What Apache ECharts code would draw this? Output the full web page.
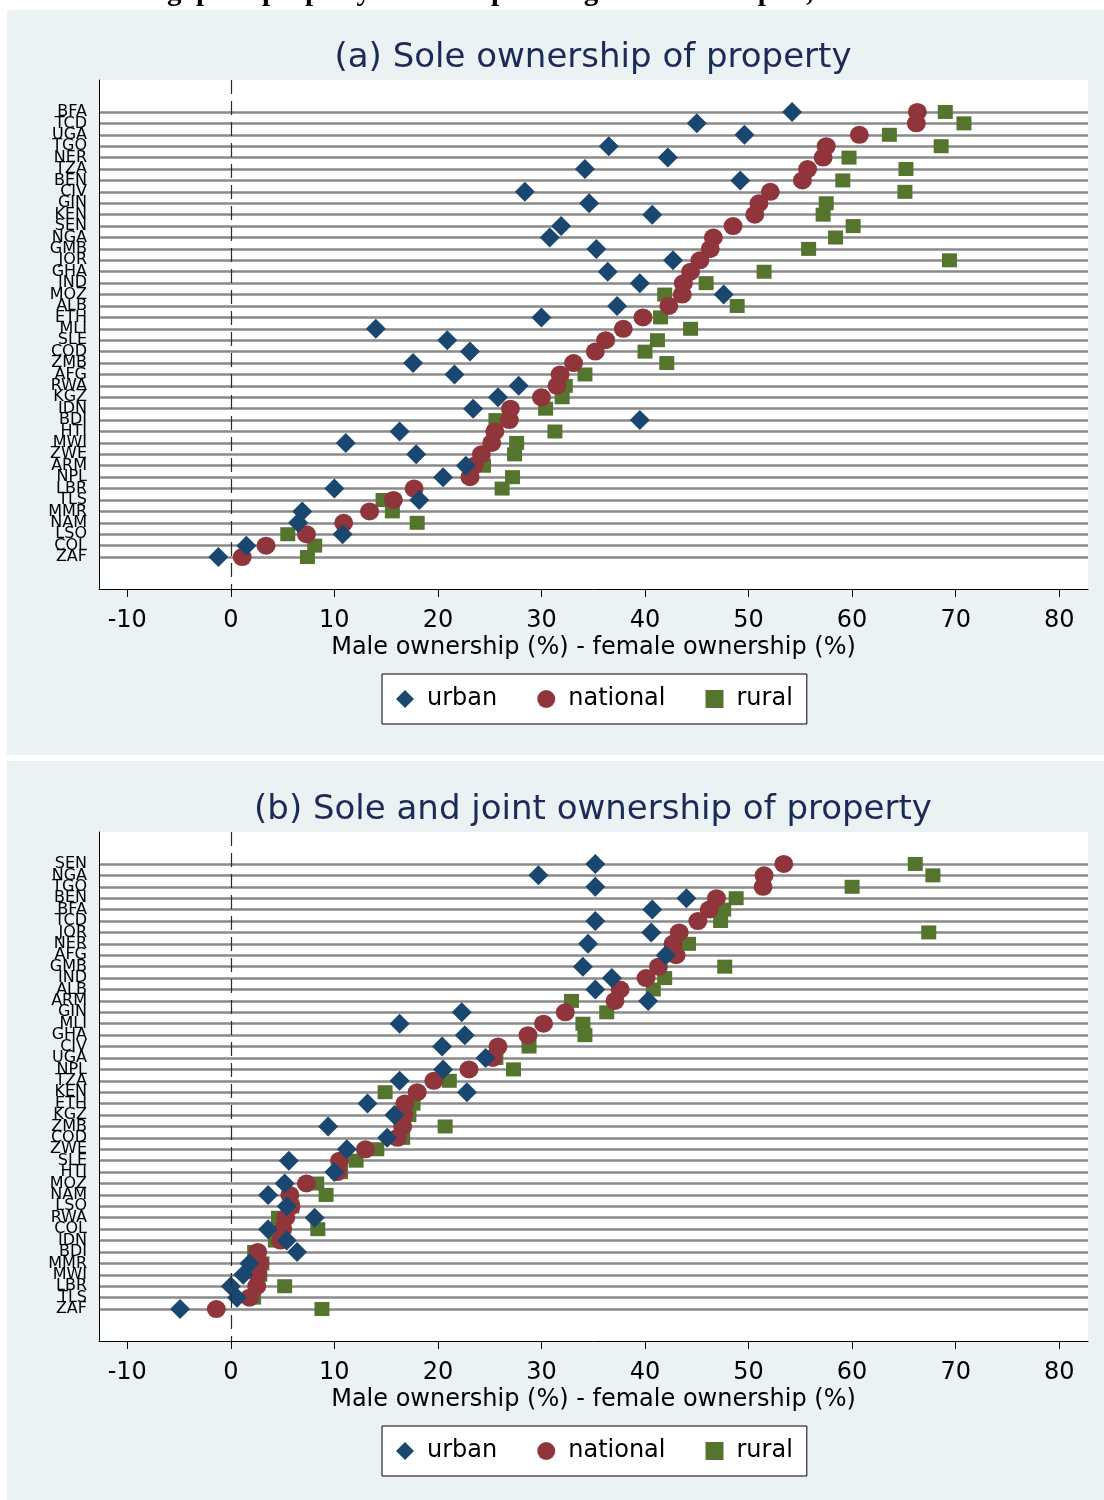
<!DOCTYPE html>
<html><head><meta charset="utf-8">
<script src="https://cdn.jsdelivr.net/npm/echarts@6/dist/echarts.min.js"></script>
<style>html,body{margin:0;padding:0;background:#fff}#c{width:1104px;height:1500px}</style>
</head><body><div id="c"></div>
<script>
// ---------- Data ----------
const countriesA = ['BFA','TCD','UGA','TGO','NER','TZA','BEN','CIV','GIN','KEN','SEN','NGA','GMB','JOR','GHA','IND','MOZ','ALB','ETH','MLI','SLE','COD','ZMB','AFG','RWA','KGZ','IDN','BDI','HTI','MWI','ZWE','ARM','NPL','LBR','TLS','MMR','NAM','LSO','COL','ZAF'];
const urbanA    = [54.2,45.0,49.6,36.5,42.2,34.2,49.2,28.4,34.6,40.7,31.9,30.8,35.3,42.7,36.4,39.5,47.6,37.3,30.0,14.0,20.9,23.1,17.6,21.6,27.8,25.8,23.4,39.5,16.3,11.1,17.9,22.7,20.5,10.0,18.2,6.9,6.5,10.8,1.5,-1.2];
const nationalA = [66.3,66.2,60.7,57.5,57.2,55.7,55.2,52.1,51.0,50.6,48.5,46.6,46.3,45.3,44.4,43.7,43.6,42.3,39.8,37.9,36.2,35.2,33.1,31.8,31.5,30.0,27.0,26.9,25.5,25.2,24.2,23.5,23.1,17.7,15.7,13.4,10.9,7.3,3.4,1.1];
const ruralA    = [69.0,70.8,63.6,68.6,59.7,65.2,59.1,65.1,57.5,57.2,60.1,58.4,55.8,69.4,51.5,45.9,41.9,48.9,41.5,44.4,41.2,40.0,42.1,34.2,32.3,32.0,30.4,25.6,31.3,27.6,27.4,24.4,27.2,26.2,14.7,15.6,18.0,5.5,8.1,7.4];

const countriesB = ['SEN','NGA','TGO','BEN','BFA','TCD','JOR','NER','AFG','GMB','IND','ALB','ARM','GIN','MLI','GHA','CIV','UGA','NPL','TZA','KEN','ETH','KGZ','ZMB','COD','ZWE','SLE','HTI','MOZ','NAM','LSO','RWA','COL','IDN','BDI','MMR','MWI','LBR','TLS','ZAF'];
const urbanB    = [35.2,29.7,35.2,44.0,40.7,35.2,40.6,34.5,42.0,34.0,36.8,35.2,40.3,22.3,16.3,22.6,20.4,24.6,20.5,16.3,22.8,13.2,15.8,9.4,15.1,11.2,5.6,10.0,5.2,3.6,5.4,8.1,3.6,5.4,6.4,1.8,1.2,0.0,0.6,-4.9];
const nationalB = [53.4,51.5,51.4,46.9,46.2,45.1,43.3,42.7,43.0,41.3,40.1,37.6,37.1,32.3,30.2,28.7,25.8,25.3,23.0,19.6,18.0,16.8,16.7,16.6,16.1,13.0,10.5,10.3,7.3,5.7,5.8,5.3,5.0,4.8,2.6,2.8,2.6,2.5,1.8,-1.4];
const ruralB    = [66.1,67.8,60.0,48.8,47.6,47.3,67.4,44.2,42.7,47.7,41.9,40.8,32.9,36.3,34.0,34.2,28.8,25.6,27.3,21.1,14.9,17.6,17.2,20.7,16.6,14.1,12.1,10.6,8.3,9.2,5.9,4.6,8.4,4.3,2.3,3.0,2.8,5.2,2.2,8.8];

const xTicks = [-10,0,10,20,30,40,50,60,70,80];
const xTitle = 'Male ownership (%) - female ownership (%)';
const panelTitles = ['(a) Sole ownership of property', '(b) Sole and joint ownership of property'];
const legendNames = ['urban','national','rural'];
const figureHeading = 'Figure 3: Gender gaps in property ownership among married couples, urban vs rural';

// ---------- Styles ----------
const FONT = 'DejaVu Sans';
const COLORS = {urban:'#1a476f', national:'#90353b', rural:'#55752f'};
const SYMBOLS = {urban:'diamond', national:'circle', rural:'rect'};
const SIZES = {urban:[20,20], national:[19,18], rural:[15,14]};
const DRAW_ORDER = ['rural','national','urban'];

const panels = [
  {countries: countriesA, data: {urban: urbanA, national: nationalA, rural: ruralA}, off: 0},
  {countries: countriesB, data: {urban: urbanB, national: nationalB, rural: ruralB}, off: 752}
];

const grids = [], xAxes = [], yAxes = [], series = [], titles = [], legends = [];
panels.forEach((p, pi) => {
  const idx = p.countries.map((c, i) => i);
  // empty sentinel labels at both ends keep every country label visible
  const labelVals = [-1].concat(idx, [p.countries.length]);
  grids.push({left: 99, width: 989, top: 80 + p.off, height: 509, show: true, backgroundColor: '#fff', borderWidth: 0});
  xAxes.push({
    type: 'value', gridIndex: pi, min: -12.73, max: 82.78, position: 'bottom',
    axisLine: {show: true, onZero: false, lineStyle: {color: '#000', width: 1}},
    axisTick: {show: true, length: 8, customValues: xTicks, lineStyle: {color: '#000', width: 1}},
    axisLabel: {customValues: xTicks, fontFamily: FONT, fontSize: 24, color: '#000', margin: 20},
    splitLine: {show: false},
    name: xTitle, nameLocation: 'middle', nameGap: 47,
    nameTextStyle: {fontFamily: FONT, fontSize: 24, color: '#000'}
  });
  yAxes.push({
    type: 'value', gridIndex: pi, inverse: true, min: -2.8, max: 41.8,
    axisLine: {show: true, onZero: false, lineStyle: {color: '#000', width: 1}},
    axisTick: {show: false, customValues: idx},
    axisLabel: {customValues: labelVals, formatter: v => p.countries[Math.round(v)] || '',
      showMinLabel: true, showMaxLabel: true, hideOverlap: false,
      fontFamily: FONT, fontSize: 16, color: '#000', margin: 12},
    splitLine: {show: true, lineStyle: {color: '#8a8a8a', width: 2.5}}
  });
  DRAW_ORDER.forEach((name, k) => {
    const s = {
      name: name, type: 'scatter', xAxisIndex: pi, yAxisIndex: pi,
      symbol: SYMBOLS[name], symbolSize: SIZES[name],
      itemStyle: {color: COLORS[name], opacity: 1},
      data: p.data[name].map((v, i) => [v, i]),
      silent: true
    };
    if (k === 0) {
      s.markLine = {silent: true, symbol: ['none','none'], label: {show: false},
        lineStyle: {color: '#2a2a2a', type: [14, 7], width: 1.2},
        data: [{xAxis: 0}]};
    }
    series.push(s);
  });
  titles.push({text: panelTitles[pi], left: 588, top: 36 + p.off, textAlign: 'center',
    textStyle: {fontFamily: FONT, fontSize: 34, fontWeight: 'normal', color: '#1c2a58'}});
  legends.push({data: legendNames, left: 382, top: 674 + p.off, orient: 'horizontal',
    itemGap: 40, itemWidth: 18, itemHeight: 18, padding: [13, 14],
    borderColor: '#000', borderWidth: 1, backgroundColor: '#fff', borderRadius: 0,
    selectedMode: false,
    textStyle: {fontFamily: FONT, fontSize: 24, color: '#000', padding: [0, 0, 0, 8]}});
});

const chart = echarts.init(document.getElementById('c'), null, {renderer: 'canvas'});
chart.setOption({
  animation: false,
  backgroundColor: '#eaf2f3',
  title: titles,
  legend: legends,
  grid: grids,
  xAxis: xAxes,
  yAxis: yAxes,
  series: series,
  graphic: [
    {type: 'rect', shape: {x: 0, y: 0, width: 1104, height: 10}, style: {fill: '#fff'}, silent: true},
    {type: 'rect', shape: {x: 0, y: 0, width: 7, height: 1500}, style: {fill: '#fff'}, silent: true},
    {type: 'rect', shape: {x: 0, y: 755, width: 1104, height: 6}, style: {fill: '#fff'}, silent: true},
    {type: 'text', x: -54, y: -7, silent: true, z: 10,
      style: {text: figureHeading, font: 'bold 29px "Liberation Serif"', fill: '#000', textVerticalAlign: 'middle'}}
  ]
});
</script></body></html>
